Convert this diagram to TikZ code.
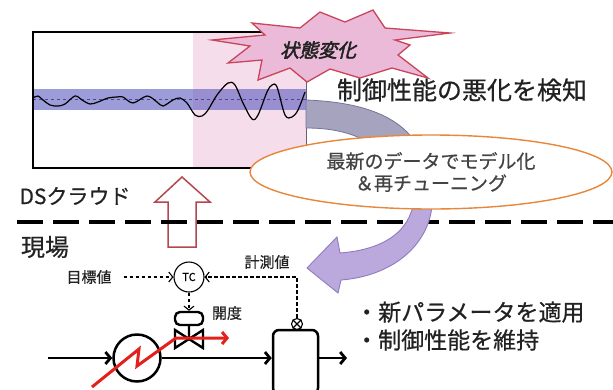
\documentclass[tikz,border=0pt]{standalone}
\usepackage{fontspec}
\setmainfont{Noto Sans CJK JP}[FakeBold=0.6]
\newfontfamily\jpbold[FakeBold=2.5,FakeSlant=0.25]{Noto Sans CJK JP}
\usetikzlibrary{positioning,arrows.meta,shapes.geometric,calc}
\definecolor{zonepink}{HTML}{F6DDEB}
\definecolor{bandblue}{HTML}{5A5ABE}
\definecolor{starfill}{HTML}{EBBAD8}
\definecolor{starline}{HTML}{C8455A}
\definecolor{arcgrey}{HTML}{A6A3BE}
\definecolor{arcline}{HTML}{77739B}
\definecolor{ovalline}{HTML}{E8873A}
\definecolor{lavender}{HTML}{BBA8DD}
\definecolor{lavline}{HTML}{8E7CC0}
\definecolor{uparrow}{HTML}{B2474F}
\definecolor{heatred}{HTML}{E3201B}
\definecolor{inktext}{HTML}{222222}

\begin{document}
\begin{tikzpicture}[x=1pt, y=-1pt,
    flow/.style={line width=2.8pt, -{Straight Barb[length=5pt,width=12pt]}},
    signal/.style={line width=1.1pt, dash pattern=on 3.5pt off 2.5pt, -{Straight Barb[length=4pt,width=10pt]}},
    bigtext/.style={text=inktext, inner sep=0pt},
    smalltext/.style={text=inktext, inner sep=0pt, font=\fontsize{15}{17}\selectfont}]
    \useasboundingbox (0,0) rectangle (613,389);

    % trend chart
    \fill[zonepink] (193,32) rectangle (306,168);
    \fill[bandblue, opacity=0.6] (33,89) rectangle (306,110);
    \draw[bandblue!80!black, dashed, line width=0.6pt] (33,99) -- (306,99);
    \draw[line width=1.2pt] plot[smooth, tension=0.55] coordinates {
        (33,98) (38,96) (43,100) (50,105) (58,106) (65,104) (75,96) (82,100)
        (90,104) (98,102) (108,98) (117,97) (123,97) (133,103) (147,96) (157,102)
        (163,106) (173,100) (180,98) (187,103) (195,115) (202,116) (208,110)
        (217,95) (228,83) (235,85) (243,103) (252,119) (258,115) (267,92)
        (272,85) (277,87) (285,115) (292,117) (298,110) (305,92)};
    \draw[line width=1.4pt] (306,32) -- (33,32) -- (33,168) -- (306,168);
    \draw[arcgrey!60!black, line width=0.8pt] (306,32) -- (306,168);

    % state change burst
    \draw[starline, fill=starfill, line width=1.3pt, line join=miter] plot coordinates {
        (212,40) (250,46) (228,63) (262,60) (258,80) (290,68) (307,82) (330,69)
        (360,78) (392,68) (428,78) (398,55) (410,45) (395,40) (450,33) (385,28)
        (373,10) (345,22) (320,12) (300,28) (252,23) (265,35)} -- cycle;
    \node[bigtext, font=\jpbold\fontsize{19}{21}\selectfont] (change) at (318,50) {状態変化};

    \node[bigtext, font=\fontsize{25}{28}\selectfont] (detect) at (462,90) {制御性能の悪化を検知};

    % band leading into the model
    \draw[arcline, fill=arcgrey, line width=0.8pt]
        (306,100) .. controls (362,102) and (396,116) .. (414,140)
        -- (368,142) .. controls (350,132) and (330,128) .. (306,128) -- cycle;

    % cloud -> field separator
    \coordinate (sepL) at (17,222);
    \coordinate (sepR) at (613,222);

    % hollow upload arrow
    \draw[uparrow, fill=white, line width=1.5pt, line join=miter]
        (182,177) -- (210,202) -- (196,202) -- (196,247) -- (168,247) -- (168,202) -- (155,202) -- cycle;
    \draw[line width=3.5pt, dash pattern=on 26pt off 10pt] (sepL) -- (sepR);

    % purple feedback arrow
    \draw[lavline, fill=lavender, line width=0.9pt, line join=miter]
        (413,206) .. controls (406,236) and (378,250) .. (340,253)
        -- (337,237) -- (307,268) -- (338,293) -- (341,280)
        .. controls (392,276) and (428,246) .. (432,206) -- cycle;

    \node[ellipse, draw=ovalline, fill=white, line width=1.4pt, minimum width=362pt,
        minimum height=74pt, inner sep=0pt, align=center, text=inktext!85!white,
        font=\fontsize{19}{22}\selectfont] (model) at (431,172)
        {最新のデータでモデル化\\＆再チューニング};

    \node[bigtext, font=\fontsize{21}{24}\selectfont] (cloud) at (75,196) {DSクラウド};
    \node[bigtext, font=\fontsize{24}{26}\selectfont] (field) at (45,247) {現場};

    % control loop
    \node[circle, draw, line width=1.1pt, minimum size=30pt, inner sep=0pt,
        font=\fontsize{11}{12}\selectfont] (tc) at (189,277) {TC};
    \node[smalltext] (setpoint) at (89,277) {目標値};
    \node[smalltext] (measured) at (267,262) {計測値};
    \node[smalltext] (opening) at (227,313) {開度};

    \node[draw, line width=2.5pt, rounded corners=6pt, minimum width=45pt,
        minimum height=64pt] (vessel) at (295.5,362) {};
    \node[circle, draw, fill=white, line width=1.1pt, minimum size=11pt,
        inner sep=0pt] (sensor) at (297,324) {};
    \draw[line width=1.1pt] (sensor.north west) -- (sensor.south east)
        (sensor.north east) -- (sensor.south west);

    \node[draw, line width=2.4pt, rounded corners=5pt, minimum width=28pt,
        minimum height=13pt, inner sep=0pt] (actuator) at (189,318.5) {};
    \coordinate (valve) at (189,339);
    \draw[line width=2.4pt, line join=miter] (actuator.south) -- (valve)
        (valve) -- (175,330) -- (175,348) -- cycle
        (valve) -- (203,330) -- (203,348) -- cycle;

    \draw[signal] (setpoint.east) ++(12,0) -- (tc.west);
    \draw[signal] (sensor.north) |- (tc.east);
    \draw[signal] (tc.south) -- (actuator.north);

    % process line
    \node[circle, draw, line width=2.5pt, minimum size=47pt, inner sep=0pt] (hx) at (137,358) {};
    \coordinate (inlet) at (48,358);
    \coordinate (outlet) at (347,358);
    \draw[flow] (inlet) -- (hx.west);
    \draw[flow] (hx.east) -- (hx.east -| vessel.west);
    \draw[flow] (vessel.east |- hx.east) -- (outlet);
    \draw[heatred, line width=3pt, line join=miter, -{Straight Barb[length=5pt,width=12pt]}]
        (92,387) -- (139,349) -- (137,366) -- (176,338) -- (229,338);

    \node[bigtext, anchor=west, align=left, font=\fontsize{23}{28}\selectfont] (result) at (355,326)
        {・新パラメータを適用\\・制御性能を維持};
\end{tikzpicture}
\end{document}
